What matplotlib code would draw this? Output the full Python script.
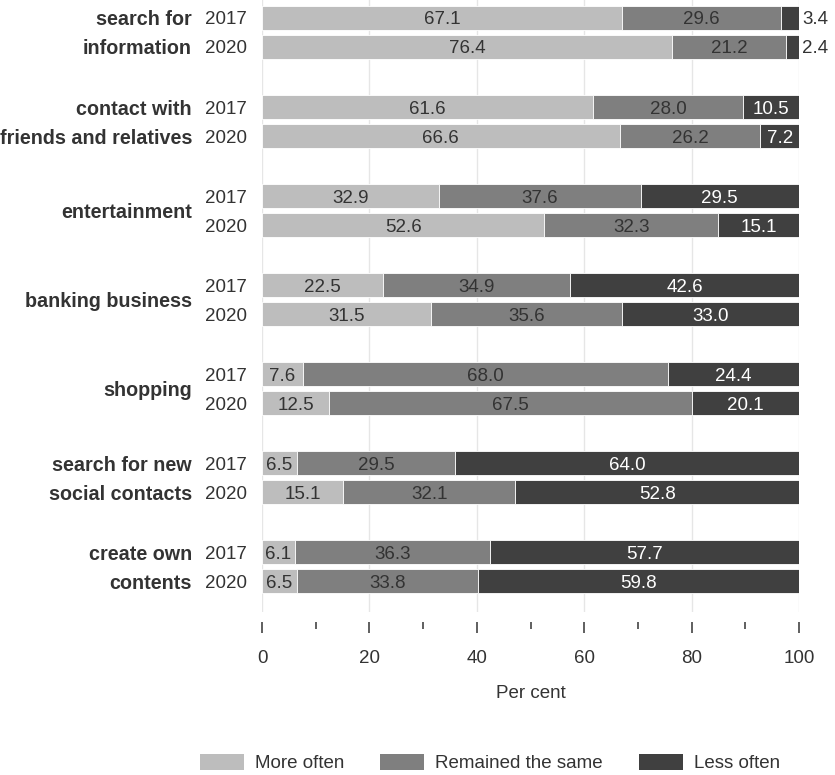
import matplotlib
matplotlib.use("Agg")
import matplotlib.pyplot as plt
import matplotlib.transforms as mtransforms
from matplotlib.patches import Patch
import numpy as np

plt.rcParams['font.family'] = ['Liberation Sans', 'DejaVu Sans']

categories = ["search for\ninformation", "contact with\nfriends and relatives", "entertainment",
              "banking business", "shopping", "search for new\nsocial contacts", "create own\ncontents"]
years = ["2017", "2020"]
series_names = ["More often", "Remained the same", "Less often"]

more_2017 = [67.1, 61.6, 32.9, 22.5, 7.6, 6.5, 6.1]
same_2017 = [29.6, 28.0, 37.6, 34.9, 68.0, 29.5, 36.3]
less_2017 = [3.4, 10.5, 29.5, 42.6, 24.4, 64.0, 57.7]
more_2020 = [76.4, 66.6, 52.6, 31.5, 12.5, 15.1, 6.5]
same_2020 = [21.2, 26.2, 32.3, 35.6, 67.5, 32.1, 33.8]
less_2020 = [2.4, 7.2, 15.1, 33.0, 20.1, 52.8, 59.8]

colors = ["#bdbdbd", "#7f7f7f", "#404040"]
text_colors = ["#333333", "#333333", "#ffffff"]
TXT = "#333333"
FS = 13.5
FS_BOLD = 14.2

W, H = 835, 775
fig = plt.figure(figsize=(W / 100, H / 100), dpi=100)
ax_left, ax_right, ax_top, ax_bot = 262, 799, 0, 612
ax = fig.add_axes([ax_left / W, 1 - ax_bot / H, (ax_right - ax_left) / W, (ax_bot - ax_top) / H])

group_step = 3.07
bar_h = 0.83
data = {"2017": [more_2017, same_2017, less_2017], "2020": [more_2020, same_2020, less_2020]}

ypos_all, ylabels = [], []
for i, cat in enumerate(categories):
    gc = i * group_step
    for j, yr in enumerate(years):
        y = gc - 0.5 + j
        ypos_all.append(y)
        ylabels.append(yr)
        left = 0.0
        for k in range(3):
            v = data[yr][k][i]
            ax.barh(y, v, left=left, height=bar_h, color=colors[k], edgecolor="white",
                    linewidth=0.6, zorder=3)
            if v >= 5:
                ax.text(left + v / 2, y, f"{v:.1f}", ha="center", va="center_baseline",
                        color=text_colors[k], fontsize=FS, zorder=4)
            else:
                ax.text(100.6, y, f"{v:.1f}", ha="left", va="center_baseline",
                        color=TXT, fontsize=FS, zorder=4, clip_on=False)
            left += v
    # category labels
    trans = mtransforms.offset_copy(ax.get_yaxis_transform(), fig=fig, x=-70, y=0, units="dots")
    lines = cat.split("\n")
    if len(lines) == 2:
        for j, ln in enumerate(lines):
            ax.text(0, gc - 0.5 + j, ln, transform=trans, ha="right", va="center_baseline",
                    fontsize=FS_BOLD, fontweight="bold", color=TXT)
    else:
        ax.text(0, gc, cat, transform=trans, ha="right", va="center_baseline",
                fontsize=FS_BOLD, fontweight="bold", color=TXT)

ax.set_xlim(0, 100)
ax.set_ylim(-1.12 + (ax_bot - ax_top) / 29, -1.12)
ax.set_yticks(ypos_all)
ax.set_yticklabels(ylabels, fontsize=FS, color=TXT, va="center_baseline")
ax.tick_params(axis="y", length=0, pad=11)

ax.set_xticks(np.arange(0, 101, 20))
ax.set_xticks(np.arange(10, 100, 20), minor=True)
ax.tick_params(axis="x", which="major", length=8, width=1.2, color="#444444",
               labelsize=FS, labelcolor=TXT, pad=12.5, direction="out")
ax.tick_params(axis="x", which="minor", length=5, width=1.2, color="#444444", direction="out")
ax.spines["bottom"].set_position(("outward", 7))
for s in ["top", "right", "left", "bottom"]:
    ax.spines[s].set_visible(False)
ax.grid(axis="x", which="major", color="#e6e6e6", linewidth=1.0, zorder=0)
ax.set_axisbelow(True)

fig.text((ax_left + ax_right) / 2 / W, 1 - 691 / H, "Per cent", ha="center", va="center_baseline",
         fontsize=FS, color=TXT)

handles = [Patch(facecolor=c, edgecolor="none") for c in colors]
leg = fig.legend(handles, series_names, loc="center", bbox_to_anchor=(490 / W, 1 - 763 / H),
                 ncol=3, frameon=False, fontsize=FS, handlelength=2.35, handleheight=1.0,
                 handletextpad=0.6, columnspacing=1.9, borderpad=0, borderaxespad=0)
for t in leg.get_texts():
    t.set_color(TXT)

fig.savefig("out.png", dpi=100)
